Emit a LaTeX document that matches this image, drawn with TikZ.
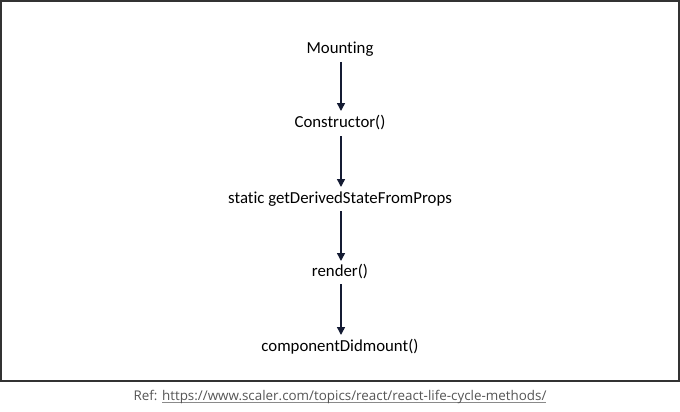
\documentclass[tikz,border=0pt]{standalone}
\usepackage{fontspec}
\setmainfont{Carlito}[RawFeature=-liga]
\newfontfamily\capfont{Open Sans}
\usetikzlibrary{arrows.meta}
\definecolor{framec}{HTML}{333333}
\definecolor{arrowc}{HTML}{141B33}
\definecolor{capc}{HTML}{555555}
\definecolor{ulc}{HTML}{8A8A8A}
\newcommand{\ulgray}[1]{\setbox0=\hbox{#1}\rlap{\raisebox{-2.2pt}{\textcolor{ulc}{\rule{\wd0}{0.9pt}}}}\box0}
\begin{document}
\begin{tikzpicture}[x=1pt,y=-1pt,
  lbl/.style={inner sep=0pt,font=\fontsize{16.8}{18}\selectfont,text=black},
  conn/.style={draw=arrowc,line width=1.5pt,-{Triangle[length=8pt,width=8pt]},shorten >=0pt}]
\useasboundingbox (0,0) rectangle (680,412);
\draw[framec,line width=2pt] (1,1) rectangle (679,381);
\node[lbl] (a) at (340,49) {Mounting};
\node[lbl] (b) at (340,123) {Constructor()};
\node[lbl] (c) at (340,199) {static getDerivedStateFromProps};
\node[lbl] (d) at (340,272) {render()};
\node[lbl] (e) at (340,347) {componentDidmount()};
\coordinate (a1) at (341,62); \coordinate (a2) at (341,111);
\coordinate (b1) at (341,136); \coordinate (b2) at (341,187);
\coordinate (c1) at (341,211); \coordinate (c2) at (341,261);
\coordinate (d1) at (341,284); \coordinate (d2) at (341,335);
\draw[conn] (a1) -- (a2);
\draw[conn] (b1) -- (b2);
\draw[conn] (c1) -- (c2);
\draw[conn] (d1) -- (d2);
\node[inner sep=0pt,font=\capfont\fontsize{13.4}{15}\selectfont,text=capc] (cap) at (340,397) {Ref: \ulgray{https://www.scaler.com/topics/react/react-life-cycle-methods/}};
\end{tikzpicture}
\end{document}
